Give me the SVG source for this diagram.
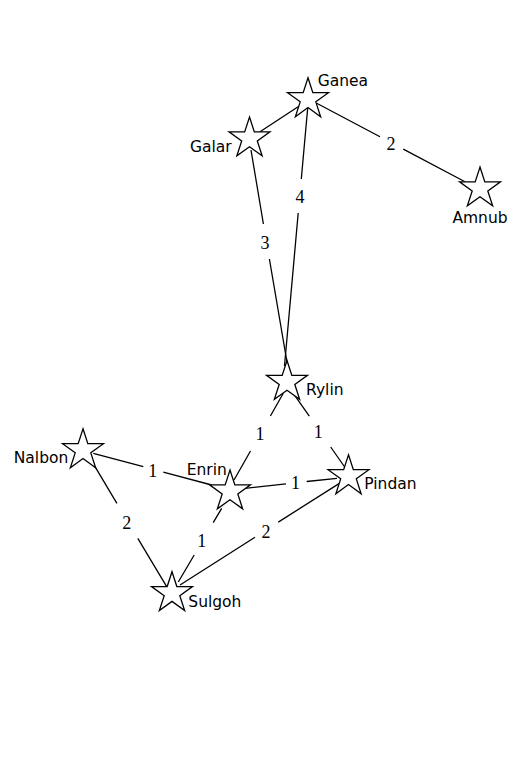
<svg xmlns="http://www.w3.org/2000/svg" xmlns:xlink="http://www.w3.org/1999/xlink" width="528" height="761" viewBox="0 0 528 761">
<style>
.edge{stroke:#000;stroke-width:1.3;fill:none;stroke-linecap:butt}
.star{fill:#fff;stroke:#000;stroke-width:1.3;stroke-linejoin:miter}
.nl{font-family:"DejaVu Sans",sans-serif;font-size:15.5px;fill:#000}
.el{font-family:"Liberation Serif",serif;font-size:18px;fill:#000;text-anchor:middle}
</style>
<defs>
<polygon id="star" points="0,-21.5 4.83,-6.64 20.45,-6.64 7.81,2.54 12.64,17.39 0,8.21 -12.64,17.39 -7.81,2.54 -20.45,-6.64 -4.83,-6.64"/>
</defs>
<rect width="528" height="761" fill="#fff"/>
<g id="connectors">
<path class="edge" d="M260,131.7 L298.5,106.5"/>
<path class="edge" d="M316.7,103.3 L380,136.8 M403.3,149.1 L465,181.7"/>
<path class="edge" d="M307.7,108 L301.3,179 M298.2,213 L284.5,366"/>
<path class="edge" d="M251,150 L263.4,224 M269.4,259 L288,368"/>
<path class="edge" d="M283.3,393.3 L270.4,416 M250.5,451 L234,480"/>
<path class="edge" d="M293.3,393.3 L309.3,416.2 M330.7,447 L345.7,468.5"/>
<path class="edge" d="M93.3,453.3 L143.3,466.7 M163.3,472.1 L211.7,485"/>
<path class="edge" d="M95,466.7 L116.9,503.3 M137.8,538.3 L166.7,586.7"/>
<path class="edge" d="M245,488.3 L286,483.8 M306.7,481.5 L337,478.3"/>
<path class="edge" d="M221.7,508.3 L213.2,522.7 M194.2,555 L178.3,582"/>
<path class="edge" d="M339,483.6 L278.3,522.1 M255,537.2 L180,585"/>
<text class="el" x="391" y="150">2</text>
<text class="el" x="300" y="203.3">4</text>
<text class="el" x="265" y="249">3</text>
<text class="el" x="260" y="440">1</text>
<text class="el" x="318.3" y="437.7">1</text>
<text class="el" x="152.7" y="476.7">1</text>
<text class="el" x="126.7" y="529.3">2</text>
<text class="el" x="295.5" y="489.3">1</text>
<text class="el" x="201.7" y="547.3">1</text>
<text class="el" x="266" y="537.7">2</text>
</g>
<g id="node-ganea"><use xlink:href="#star" class="star" x="308" y="99.3"/><text class="nl" x="317.7" y="86">Ganea</text></g>
<g id="node-galar"><use xlink:href="#star" class="star" x="249.5" y="138.5"/><text class="nl" x="231.7" y="151.7" text-anchor="end">Galar</text></g>
<g id="node-amnub"><use xlink:href="#star" class="star" x="480" y="188.5"/><text class="nl" x="480" y="222.7" text-anchor="middle">Amnub</text></g>
<g id="node-rylin"><use xlink:href="#star" class="star" x="287" y="382"/><text class="nl" x="306" y="395">Rylin</text></g>
<g id="node-nalbon"><use xlink:href="#star" class="star" x="83" y="450.3"/><text class="nl" x="68.3" y="462.7" text-anchor="end">Nalbon</text></g>
<g id="node-enrin"><use xlink:href="#star" class="star" x="230" y="491.5"/><text class="nl" x="186.7" y="475">Enrin</text></g>
<g id="node-pindan"><use xlink:href="#star" class="star" x="348.5" y="476.3"/><text class="nl" x="364.3" y="489.3">Pindan</text></g>
<g id="node-sulgoh"><use xlink:href="#star" class="star" x="172" y="593.2"/><text class="nl" x="188.3" y="606.7">Sulgoh</text></g>
</svg>
